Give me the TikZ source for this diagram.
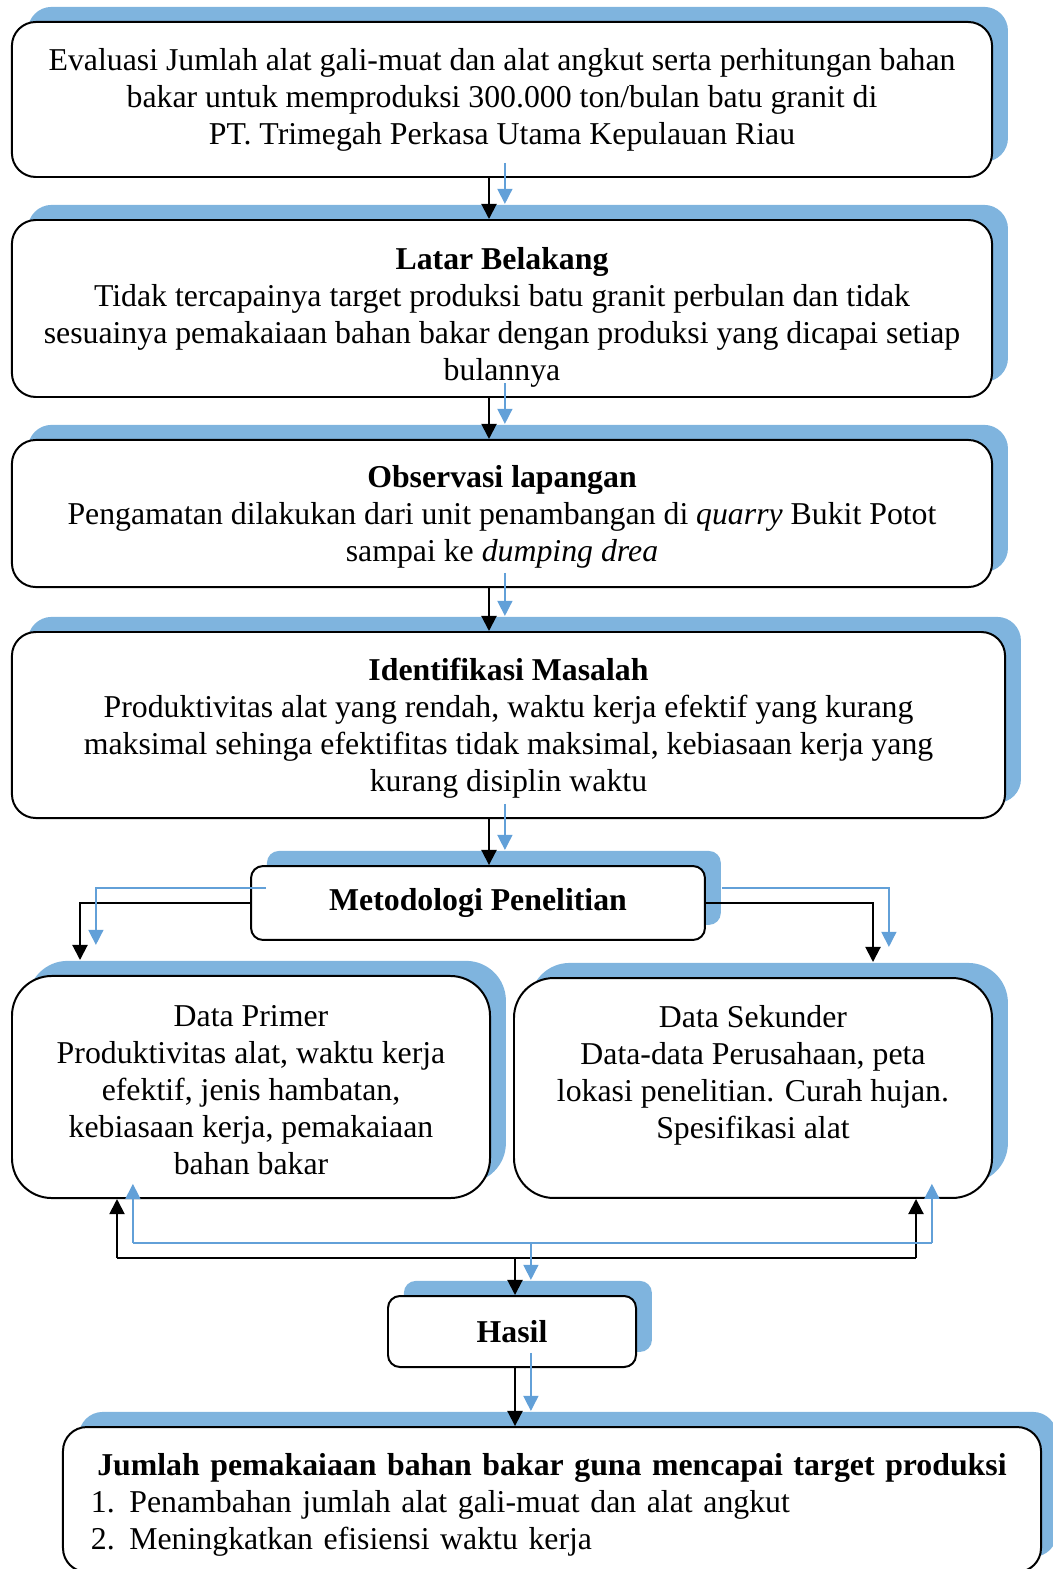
\documentclass[tikz,border=0pt]{standalone}
\usepackage{fontspec}
\setmainfont{Liberation Serif}
\usetikzlibrary{arrows.meta,shadows}

\definecolor{bayangbiru}{RGB}{127,180,222}
\definecolor{garisbiru}{RGB}{98,160,216}

\tikzset{
  kotak/.style={draw=black, line width=0.75pt, fill=white, rounded corners=9pt,
    align=center, inner sep=0pt, font=\fontsize{12}{13.95}\selectfont,
    general shadow={fill=bayangbiru, shadow xshift=6pt, shadow yshift=5.7pt}},
  panah/.style={line width=0.75pt, -{Triangle[length=5.7pt,width=5.7pt]}},
  garis/.style={line width=0.75pt},
}

% alur penghubung antar kotak
\newcommand{\alur}{%
  \draw[panah] (judul.south -| tulang) -- (latar.north -| tulang);
  \draw[panah] (latar.south -| tulang) -- (observasi.north -| tulang);
  \draw[panah] (observasi.south -| tulang) -- (masalah.north -| tulang);
  \draw[panah] (masalah.south -| tulang) -- (metode.north -| tulang);
  \draw[panah] (metode.west) -| (kiri);
  \draw[panah] (metode.east) -| (kanan);
  \draw[garis] (bawahkiri) -- (bawahkanan);
  \draw[panah] (bawahkiri) -- (bawahkiri |- primer.south);
  \draw[panah] (bawahkanan) -- (bawahkanan |- sekunder.south);
  \draw[panah] (simpul) -- (simpul |- hasil.north);
  \draw[panah] (hasil.south -| simpul) -- (simpulan.north -| simpul);
}

\begin{document}
\begin{tikzpicture}[x=0.3774pt, y=0.3774pt, yscale=-1]
\useasboundingbox (0,0) rectangle (1053,1569);
\clip (0,0) rectangle (1053,1569);

\node[kotak, minimum width=369.9pt, minimum height=58.5pt] (judul) at (502,99.5)
  {Evaluasi Jumlah alat gali-muat dan alat angkut serta perhitungan bahan\\
   bakar untuk memproduksi 300.000 ton/bulan batu granit di\\
   PT. Trimegah Perkasa Utama Kepulauan Riau};
\node[kotak, minimum width=369.9pt, minimum height=66.8pt, text depth=0pt] (latar) at (502,308.5)
  {\rule{0pt}{12.6pt}\textbf{Latar Belakang}\\
   Tidak tercapainya target produksi batu granit perbulan dan tidak\\
   sesuainya pemakaiaan bahan bakar dengan produksi yang dicapai setiap\\
   bulannya};
\node[kotak, minimum width=369.9pt, minimum height=55.5pt, text depth=0pt] (observasi) at (502,513.5)
  {\textbf{Observasi lapangan}\\
   Pengamatan dilakukan dari unit penambangan di \textit{quarry} Bukit Potot\\
   sampai ke \textit{dumping drea}};
\node[kotak, minimum width=374.8pt, minimum height=70.2pt, text depth=0pt] (masalah) at (508.5,725)
  {\textbf{Identifikasi Masalah}\\
   Produktivitas alat yang rendah, waktu kerja efektif yang kurang\\
   maksimal sehinga efektifitas tidak maksimal, kebiasaan kerja yang\\
   kurang disiplin waktu};
\node[kotak, rounded corners=4.5pt, minimum width=171.3pt, minimum height=27.9pt] (metode) at (478,903)
  {\textbf{Metodologi Penelitian}};
\node[kotak, rounded corners=15pt, minimum width=180.4pt, minimum height=83.8pt] (primer) at (251,1087)
  {\rule{0pt}{10.4pt}Data Primer\\
   Produktivitas alat, waktu kerja\\
   efektif, jenis hambatan,\\
   kebiasaan kerja, pemakaiaan\\
   bahan bakar};
\node[kotak, rounded corners=15pt, minimum width=180.4pt, minimum height=83pt, text depth=12.4pt] (sekunder) at (753,1088)
  {Data Sekunder\\
   Data-data Perusahaan, peta\\
   lokasi penelitian. Curah hujan.\\
   Spesifikasi alat};
\node[kotak, rounded corners=4.5pt, minimum width=93.6pt, minimum height=26.8pt] (hasil) at (512,1331.5)
  {\textbf{Hasil}};
\node[kotak, align=left, text width=348pt, minimum width=369.1pt, minimum height=54.7pt, text depth=26.7pt] (simpulan) at (552,1499.5)
  {\makebox[348pt]{\textbf{Jumlah pemakaiaan bahan bakar guna mencapai target produksi}}\\
   \makebox[14.5pt][l]{1.}Penambahan jumlah alat gali-muat dan alat angkut\\
   \makebox[14.5pt][l]{2.}Meningkatkan efisiensi waktu kerja};

\coordinate (tulang) at (489,0);
\coordinate (kiri) at (80,960);
\coordinate (kanan) at (873,962);
\coordinate (simpul) at (515,1258);
\coordinate (bawahkiri) at (117,1258);
\coordinate (bawahkanan) at (916,1258);

\alur
\begin{scope}[garisbiru, transform canvas={shift={(6pt,5.7pt)}},
    panah/.append style={line width=0.55pt}, garis/.append style={line width=0.55pt}]
\alur
\end{scope}

\end{tikzpicture}
\end{document}
